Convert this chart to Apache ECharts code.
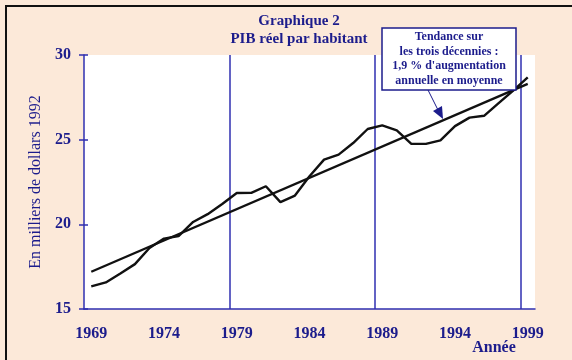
<!DOCTYPE html>
<html>
<head>
<meta charset="utf-8">
<script src="https://cdn.jsdelivr.net/npm/echarts@6/dist/echarts.min.js"></script>
<style>
html,body{margin:0;padding:0;background:#fce9d9;}
#chart{width:572px;height:360px;}
</style>
</head>
<body>
<div id="chart"></div>
<script>
// Real GDP per capita, thousands of 1992 dollars
var years = ['1969','1970','1971','1972','1973','1974','1975','1976','1977','1978',
             '1979','1980','1981','1982','1983','1984','1985','1986','1987','1988',
             '1989','1990','1991','1992','1993','1994','1995','1996','1997','1998','1999'];
var pibValues = [16.34, 16.57, 17.1, 17.65, 18.6, 19.16, 19.31, 20.14, 20.6, 21.2,
                 21.85, 21.86, 22.25, 21.31, 21.7, 22.84, 23.82, 24.12, 24.8, 25.63,
                 25.84, 25.55, 24.75, 24.75, 24.96, 25.8, 26.3, 26.41, 27.16, 27.9, 28.68];
var trendYears = ['1969', '1999'];
var trendValues = [17.2, 28.3];
var yTicks = [15, 20, 25, 30];

var navy = '#1c1c8c';
var blue = '#2f2fb0';
var font = '"Liberation Serif", "DejaVu Serif", serif';

var chart = echarts.init(document.getElementById('chart'), null, {renderer: 'canvas'});
chart.setOption({
  backgroundColor: '#fce9d9',
  animation: false,
  title: {
    text: 'Graphique 2\nPIB réel par habitant',
    left: 294, top: 7, textAlign: 'center',
    textStyle: {fontFamily: font, fontSize: 15, fontWeight: 'bold', color: navy, lineHeight: 18}
  },
  grid: {left: 84, right: 37, top: 55, bottom: 51, show: true, backgroundColor: '#ffffff', borderWidth: 0},
  xAxis: {
    type: 'category', data: years, boundaryGap: true,
    axisLine: {lineStyle: {color: blue, width: 1.5}},
    axisTick: {interval: 9, length: 5, lineStyle: {color: blue, width: 1.5}},
    splitLine: {show: true, interval: 9, showMinLine: false, showMaxLine: false, lineStyle: {color: blue, width: 1.5}},
    axisLabel: {interval: 4, margin: 17, fontFamily: font, fontSize: 16, fontWeight: 'bold', color: navy}
  },
  yAxis: [{
    type: 'value', min: 15, max: 30, interval: 5,
    name: 'En milliers de dollars 1992', nameLocation: 'middle', nameGap: 38, nameRotate: 90,
    nameTextStyle: {fontFamily: font, fontSize: 16, color: navy},
    axisLine: {show: true, lineStyle: {color: blue, width: 1.5}},
    axisTick: {show: true, length: 5, lineStyle: {color: blue, width: 1.5}},
    splitLine: {show: false},
    axisLabel: {margin: 13, fontFamily: font, fontSize: 16, fontWeight: 'bold', color: navy,
      formatter: function (v) { return yTicks.indexOf(v) >= 0 ? String(v) : ''; }}
  }, {
    type: 'value', min: 15, max: 30, interval: 5, position: 'left',
    axisLine: {show: false},
    axisTick: {show: true, inside: true, length: 4, lineStyle: {color: blue, width: 1.5}},
    axisLabel: {show: false}, splitLine: {show: false}
  }],
  series: [{
    type: 'line', data: pibValues, showSymbol: false, symbol: 'none',
    lineStyle: {color: '#111111', width: 2.4}
  }, {
    type: 'line', data: trendYears.map(function (y, i) { return [y, trendValues[i]]; }),
    showSymbol: false, symbol: 'none',
    lineStyle: {color: '#111111', width: 2.4}
  }],
  graphic: [
    {type: 'polyline', shape: {points: [[6, 365], [6, 6], [580, 6]]}, style: {stroke: '#111', lineWidth: 2, fill: null}, z: 100},
    {type: 'text', x: 494, y: 348, style: {text: 'Année', fontFamily: font, fontSize: 16, fontWeight: 'bold', fill: navy, align: 'center', verticalAlign: 'middle'}},
    {type: 'rect', shape: {x: 382, y: 28, width: 134, height: 62}, style: {fill: '#ffffff', stroke: navy, lineWidth: 1.5}, z: 50},
    {type: 'text', x: 449, y: 59, z: 51, style: {text: 'Tendance sur\nles trois décennies :\n1,9 % d\'augmentation\nannuelle en moyenne',
      fontFamily: font, fontSize: 12, fontWeight: 'bold', fill: navy, align: 'center', verticalAlign: 'middle', lineHeight: 14.5}},
    {type: 'line', shape: {x1: 428, y1: 90, x2: 438, y2: 110}, style: {stroke: navy, lineWidth: 1}, z: 50},
    {type: 'polygon', shape: {points: [[443, 119], [433, 111], [442, 106]]}, style: {fill: navy}, z: 50}
  ]
});
</script>
</body>
</html>
